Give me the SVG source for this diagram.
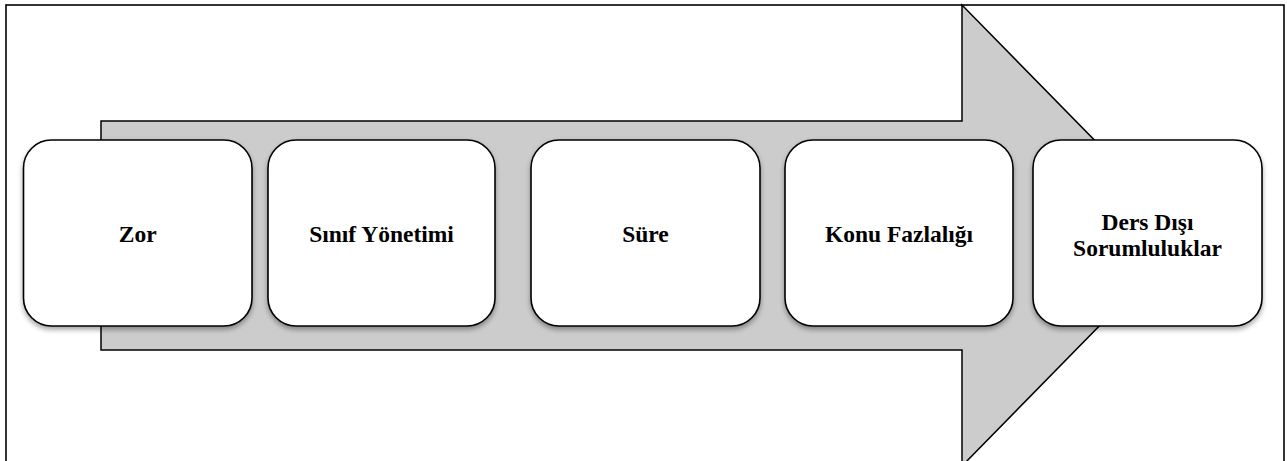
<svg xmlns="http://www.w3.org/2000/svg" width="1287" height="461" viewBox="0 0 1287 461">
<style>
.box{fill:#ffffff;stroke:#000000;stroke-width:1.6;filter:url(#sh)}
.lbl{font-family:"Liberation Serif","Times New Roman",serif;font-weight:bold;font-size:23.5px;fill:#000000;text-anchor:middle}
</style>
<defs>
<filter id="sh" x="-10%" y="-10%" width="120%" height="125%">
<feDropShadow dx="0" dy="3" stdDeviation="2.5" flood-color="#000000" flood-opacity="0.35"/>
</filter>
</defs>
<rect width="1287" height="461" fill="#ffffff"/>
<rect x="6" y="5" width="1278" height="470" fill="none" stroke="#000000" stroke-width="1.6"/>
<g id="arrow">
<polygon points="101,121 962,121 962,5 1188,235.5 962,466 962,350 101,350" fill="#cccccc" stroke="#000000" stroke-width="1.5" stroke-linejoin="miter"/>
</g>
<g id="connectors"></g>
<g id="n1"><rect class="box" x="23.5" y="140" width="228.5" height="186" rx="28" ry="28"/><text class="lbl" x="137.7" y="242">Zor</text></g>
<g id="n2"><rect class="box" x="268" y="140" width="227" height="186" rx="28" ry="28"/><text class="lbl" x="381.5" y="242">Sınıf Yönetimi</text></g>
<g id="n3"><rect class="box" x="531" y="140" width="229" height="186" rx="28" ry="28"/><text class="lbl" x="645.5" y="242">Süre</text></g>
<g id="n4"><rect class="box" x="785" y="140" width="228" height="186" rx="28" ry="28"/><text class="lbl" x="899" y="242">Konu Fazlalığı</text></g>
<g id="n5"><rect class="box" x="1033" y="140" width="229" height="186" rx="28" ry="28"/><text class="lbl" x="1147.5" y="230">Ders Dışı</text><text class="lbl" x="1147.5" y="256">Sorumluluklar</text></g>
</svg>
